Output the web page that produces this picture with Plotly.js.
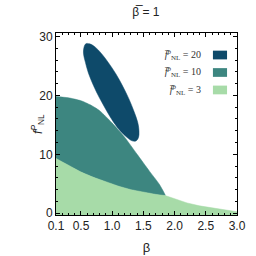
<!DOCTYPE html>
<html>
<head>
<meta charset="utf-8">
<script src="https://cdn.plot.ly/plotly-3.0.1.min.js"></script>
<style>html,body{margin:0;padding:0;background:#fff}#chart{width:256px;height:256px}</style>
</head>
<body>
<div id="chart"></div>
<script>
// f^p_NL = 3 region: upper boundary
const greenBeta = [0.1, 0.3, 0.5, 0.7, 0.9, 1.1, 1.3, 1.5, 1.7, 1.85, 2.0, 2.2, 2.4, 2.6, 2.8, 3.0];
const greenF    = [9.3, 8.1, 7.0, 6.1, 5.3, 4.6, 4.0, 3.55, 3.2, 3.0, 2.5, 1.75, 1.25, 0.9, 0.55, 0.25];
// f^p_NL = 10 region: upper boundary (lower boundary follows the green curve up to beta = 1.85)
const tealBeta = [0.1, 0.3, 0.5, 0.65, 0.8, 1.0, 1.2, 1.4, 1.6, 1.75, 1.85];
const tealF    = [19.8, 19.6, 19.1, 18.4, 17.4, 15.3, 12.9, 10.0, 7.1, 5.0, 3.1];
// f^p_NL = 20 region outline
const darkBeta = [1.38, 1.42, 1.43, 1.41, 1.35, 1.27, 1.17, 1.06, 0.94, 0.83, 0.73, 0.64, 0.58, 0.55, 0.54, 0.57, 0.62, 0.70, 0.80, 0.91, 1.02, 1.13, 1.24, 1.32];
const darkF    = [12.27, 12.81, 13.88, 15.40, 17.27, 19.37, 21.55, 23.65, 25.55, 27.09, 28.19, 28.76, 28.79, 28.24, 27.17, 25.66, 23.78, 21.69, 19.51, 17.41, 15.50, 13.97, 12.86, 12.29];

const xTicks = [0.1, 0.5, 1.0, 1.5, 2.0, 2.5, 3.0];
const xTickText = ['0.1', '0.5', '1.0', '1.5', '2.0', '2.5', '3.0'];
const yTicks = [0, 10, 20, 30];
const legendLabels = ['20', '10', '3'];

const colors = ['#0e4a6a', '#3d8680', '#a7dba8'];
const yRange = [-0.3, 30.6];
const xRange = [0.1, 3.0];

// polygons
const gX = greenBeta.concat([greenBeta[greenBeta.length-1], greenBeta[0]]);
const gY = greenF.concat([yRange[0], yRange[0]]);
const lowBeta = [], lowF = [];
for (let i = 0; i < greenBeta.length; i++) {
  if (greenBeta[i] <= tealBeta[tealBeta.length-1]) { lowBeta.push(greenBeta[i]); lowF.push(greenF[i]); }
}
const tX = tealBeta.concat(lowBeta.slice().reverse());
const tY = tealF.concat(lowF.slice().reverse());

const traces = [
  {x: tX, y: tY, type: 'scatter', mode: 'lines', fill: 'toself', fillcolor: colors[1],
   line: {color: colors[1], width: 0.5, shape: 'spline', smoothing: 0.6}, hoverinfo: 'skip', showlegend: false},
  {x: gX, y: gY, type: 'scatter', mode: 'lines', fill: 'toself', fillcolor: colors[2],
   line: {color: colors[2], width: 0.5}, hoverinfo: 'skip', showlegend: false},
  {x: darkBeta.concat([darkBeta[0]]), y: darkF.concat([darkF[0]]), type: 'scatter', mode: 'lines', fill: 'toself', fillcolor: colors[0],
   line: {color: colors[0], width: 0.5, shape: 'spline', smoothing: 1}, hoverinfo: 'skip', showlegend: false}
];

const ann = [], shapes = [];
const rowsY = [0.879, 0.783, 0.687];
for (let i = 0; i < legendLabels.length; i++) {
  ann.push({xref: 'paper', yref: 'paper', x: 0.81, y: rowsY[i], xanchor: 'right', yanchor: 'middle', showarrow: false,
    text: '<i>f\u0305</i><sup><i>p</i></sup><sub>NL</sub> = ' + legendLabels[i],
    font: {family: 'Liberation Serif', size: 10, color: '#333'}});
  shapes.push({type: 'rect', xref: 'paper', yref: 'paper', x0: 0.867, x1: 0.945, y0: rowsY[i]-0.024, y1: rowsY[i]+0.024,
    fillcolor: colors[i], line: {width: 0}});
}
// y-axis title placed as an annotation to match reference position
ann.push({xref: 'paper', yref: 'paper', x: -0.1, y: 0.5, xanchor: 'center', yanchor: 'middle', showarrow: false,
  textangle: -90, text: '<i>f</i><sup><i>P</i></sup><sub>NL</sub>',
  font: {family: 'Liberation Sans', size: 12, color: '#222'}});

const axisCommon = {
  showline: true, linecolor: '#000', linewidth: 1, mirror: 'allticks',
  ticks: 'inside', ticklen: 4, tickcolor: '#000', tickwidth: 1,
  showgrid: false, zeroline: false,
  tickfont: {family: 'Liberation Sans', size: 12, color: '#222'}
};

const layout = {
  width: 256, height: 256,
  margin: {l: 56, r: 19, t: 33, b: 41},
  paper_bgcolor: '#fff', plot_bgcolor: '#fff',
  title: {text: '\u03B2\u0305 = 1', x: 0.57, xanchor: 'center', xref: 'container', y: 0.955, yanchor: 'middle', yref: 'container',
    font: {family: 'Liberation Sans', size: 12, color: '#222'}},
  xaxis: Object.assign({}, axisCommon, {
    range: xRange, tickvals: xTicks, ticktext: xTickText,
    minor: {dtick: 0.1, tick0: 0, ticks: 'inside', ticklen: 2, tickcolor: '#000', showgrid: false},
    title: {text: '\u03B2', standoff: 10, font: {family: 'Liberation Sans', size: 13, color: '#222'}}
  }),
  yaxis: Object.assign({}, axisCommon, {
    range: yRange, tickvals: yTicks,
    minor: {dtick: 2, tick0: 0, ticks: 'inside', ticklen: 2, tickcolor: '#000', showgrid: false}
  }),
  annotations: ann,
  shapes: shapes,
  showlegend: false
};

Plotly.newPlot('chart', traces, layout, {staticPlot: true, displayModeBar: false});
</script>
</body>
</html>
